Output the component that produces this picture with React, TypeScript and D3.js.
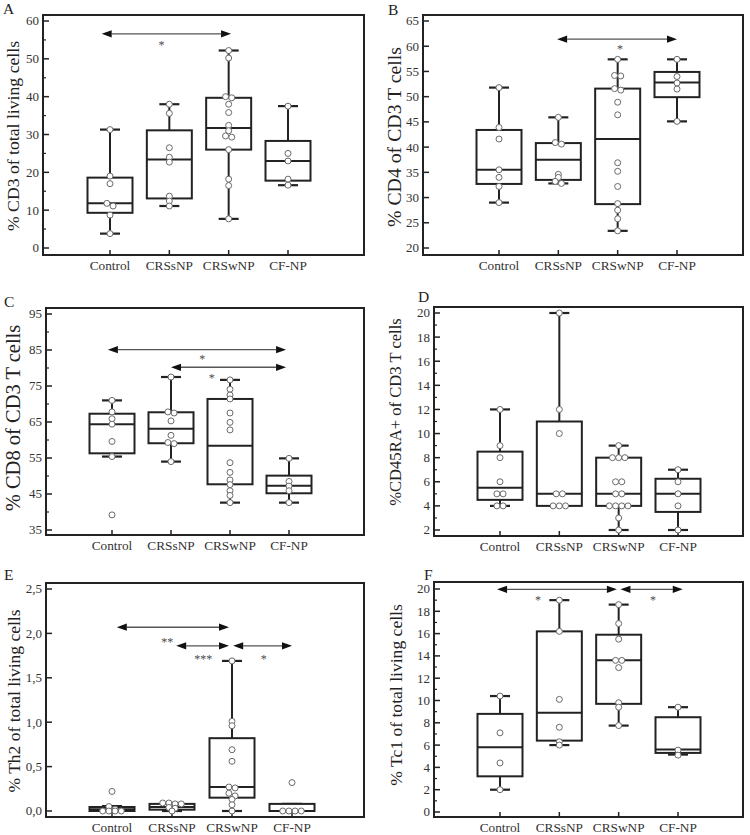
import React from "react";
import * as d3 from "d3";

const categories = ["Control", "CRSsNP", "CRSwNP", "CF-NP"];

// Box stats per group: [min, q1, median, q3, max]
const cd3Stats = [[3.8, 9.3, 11.8, 18.6, 31.3], [11.1, 13.1, 23.4, 31.1, 38.0], [7.7, 26.0, 31.7, 39.7, 52.2], [16.6, 17.8, 23.0, 28.3, 37.5]];
const cd3Points = [[31.3, 19.0, 17.0, 11.8, 11.1, 8.7, 3.8], [38.0, 35.6, 26.5, 24.0, 22.7, 13.7, 12.4, 11.1], [52.2, 50.2, 40.0, 39.7, 38.0, 35.8, 32.4, 31.0, 29.6, 29.3, 26.0, 18.2, 16.5, 7.7], [37.5, 25.0, 23.0, 18.2, 16.6]];

const cd4Stats = [[29.0, 32.7, 35.5, 43.4, 51.8], [32.8, 33.5, 37.5, 40.8, 45.9], [23.4, 28.7, 41.6, 51.6, 57.4], [45.1, 49.9, 52.8, 54.9, 57.4]];
const cd4Points = [[51.8, 43.9, 41.6, 35.5, 34.0, 32.2, 29.0], [45.9, 40.9, 40.6, 34.6, 34.0, 33.2, 32.8], [57.4, 54.2, 54.1, 51.6, 51.3, 48.9, 46.4, 36.9, 35.2, 32.2, 28.8, 27.5, 25.8, 23.4], [57.4, 54.0, 52.7, 51.5, 45.1]];

const cd8Stats = [[55.4, 56.3, 64.4, 67.3, 71.0], [54.0, 59.1, 63.1, 67.7, 77.5], [42.6, 47.7, 58.4, 71.4, 76.7], [42.6, 45.2, 47.3, 50.1, 54.9]];
const cd8Points = [[71.0, 67.8, 65.9, 64.4, 59.6, 55.4, 39.2], [77.5, 67.8, 67.5, 65.3, 61.3, 59.3, 59.0, 54.0], [76.7, 74.1, 72.5, 71.4, 67.5, 64.9, 62.8, 53.7, 51.0, 48.9, 47.6, 45.9, 44.6, 42.6], [54.9, 48.5, 47.2, 45.9, 42.6]];

const cd45Stats = [[4, 4.5, 5.5, 8.5, 12], [4, 4, 5, 11, 20], [2, 4, 5, 8, 9], [2, 3.5, 5, 6.25, 7]];
const cd45Points = [[12, 9, 8, 6, 5, 5, 4, 4], [20, 12, 10, 5, 5, 4, 4, 4], [9, 8, 8, 8, 6, 6, 5, 5, 4, 4, 4, 4, 3, 2], [7, 6, 5, 4, 2]];

const th2Stats = [[0, 0, 0.02, 0.045, 0.055], [0, 0.015, 0.045, 0.08, 0.09], [0, 0.15, 0.27, 0.82, 1.69], [0, 0, 0, 0.08, 0.08]];
const th2Points = [[0.22, 0.05, 0.02, 0, 0, 0, 0], [0.09, 0.09, 0.08, 0.08, 0.04, 0.03, 0.0], [1.69, 1.01, 0.96, 0.69, 0.56, 0.27, 0.26, 0.2, 0.17, 0.13, 0.07, 0.0], [0.32, 0, 0, 0, 0]];

const tc1Stats = [[2.0, 3.2, 5.8, 8.8, 10.4], [6.0, 6.4, 8.9, 16.2, 19.0], [7.75, 9.7, 13.6, 15.9, 18.6], [5.15, 5.3, 5.6, 8.5, 9.4]];
const tc1Points = [[10.4, 7.1, 4.4, 2.0], [19.0, 16.2, 10.1, 7.6, 6.3, 6.0], [18.6, 16.9, 15.5, 13.6, 13.6, 12.95, 9.8, 9.4, 7.75], [9.4, 5.55, 5.1]];

// Significance arrows: from/to in category index units, y in data units; star label position
type Sig = { from: number; to: number; y: number };
type Star = { text: string; x: number; y: number };

const cd3Arrows: Sig[] = [{ from: -0.14, to: 2.04, y: 56.6 }];
const cd3Stars: Star[] = [{ text: "*", x: 0.87, y: 54.1 }];
const cd4Arrows: Sig[] = [{ from: 0.98, to: 3.0, y: 61.4 }];
const cd4Stars: Star[] = [{ text: "*", x: 2.04, y: 59.9 }];
const cd8Arrows: Sig[] = [{ from: -0.07, to: 2.95, y: 85.1 }, { from: 1.0, to: 2.95, y: 80.2 }];
const cd8Stars: Star[] = [{ text: "*", x: 1.53, y: 83.0 }, { text: "*", x: 1.69, y: 77.7 }];
const th2Arrows: Sig[] = [{ from: 0.08, to: 1.95, y: 2.07 }, { from: 1.07, to: 1.95, y: 1.86 }, { from: 2.02, to: 3.0, y: 1.86 }];
const th2Stars: Star[] = [{ text: "**", x: 0.92, y: 1.93 }, { text: "***", x: 1.52, y: 1.73 }, { text: "*", x: 2.53, y: 1.73 }];
const tc1Arrows: Sig[] = [{ from: -0.05, to: 1.97, y: 19.97 }, { from: 2.03, to: 3.08, y: 19.97 }];
const tc1Stars: Star[] = [{ text: "*", x: 0.64, y: 19.2 }, { text: "*", x: 2.58, y: 19.2 }];

type PanelCfg = {
  letter: string;
  label: string;
  labelSize: number;
  labelX: number;
  labelY: number;
  letterX: number;
  letterY: number;
  frame: [number, number, number, number];
  domain: [number, number];
  yRange: [number, number];
  xRange: [number, number];
  step: number;
  minor: number | null;
  comma: boolean;
  stats: number[][];
  points: number[][];
  arrows: Sig[];
  stars: Star[];
};

const panels: PanelCfg[] = [
  { letter: "A", label: "% CD3 of total living cells", labelSize: 17.7, labelX: 19, labelY: 136, letterX: 3, letterY: 14, frame: [43, 15, 364, 255], domain: [0, 60], yRange: [248, 21], xRange: [110, 288], step: 10, minor: 5, comma: false, stats: cd3Stats, points: cd3Points, arrows: cd3Arrows, stars: cd3Stars },
  { letter: "B", label: "% CD4 of CD3 T cells", labelSize: 19.8, labelX: 401, labelY: 137, letterX: 388, letterY: 15, frame: [423, 15, 743, 255], domain: [20, 65], yRange: [248, 21], xRange: [499, 677], step: 5, minor: null, comma: false, stats: cd4Stats, points: cd4Points, arrows: cd4Arrows, stars: cd4Stars },
  { letter: "C", label: "% CD8 of CD3 T cells", labelSize: 20.5, labelX: 20, labelY: 418, letterX: 4, letterY: 307, frame: [46, 308, 364, 535], domain: [35, 95], yRange: [530, 314], xRange: [112, 289], step: 10, minor: 5, comma: false, stats: cd8Stats, points: cd8Points, arrows: cd8Arrows, stars: cd8Stars },
  { letter: "D", label: "%CD45RA+ of CD3 T cells", labelSize: 16.6, labelX: 401, labelY: 412, letterX: 418, letterY: 302, frame: [434, 307, 743, 536], domain: [2, 20], yRange: [530, 313], xRange: [500, 678], step: 2, minor: 1, comma: false, stats: cd45Stats, points: cd45Points, arrows: [], stars: [] },
  { letter: "E", label: "% Th2 of total living cells", labelSize: 17.5, labelX: 20, labelY: 701, letterX: 4, letterY: 580, frame: [46, 583, 364, 817], domain: [0, 2.5], yRange: [811, 589], xRange: [112, 292], step: 0.5, minor: null, comma: true, stats: th2Stats, points: th2Points, arrows: th2Arrows, stars: th2Stars },
  { letter: "F", label: "% Tc1 of total living cells", labelSize: 17.6, labelX: 402, labelY: 695, letterX: 424, letterY: 580, frame: [434, 582, 743, 817], domain: [0, 20], yRange: [812, 589], xRange: [500, 678], step: 2, minor: 1, comma: false, stats: tc1Stats, points: tc1Points, arrows: tc1Arrows, stars: tc1Stars },
];

const FONT = "'Liberation Serif', 'Times New Roman', serif";
const INK = "#222";

function jitter(values: number[], py: (v: number) => number, spacing: number): number[] {
  const order = values.map((v, i) => i).sort((a, b) => values[b] - values[a]);
  const offsets = new Array(values.length).fill(0);
  let group: number[] = [];
  const flush = () => {
    const n = group.length;
    group.forEach((idx, k) => {
      offsets[idx] = (k - (n - 1) / 2) * spacing;
    });
    group = [];
  };
  order.forEach((idx) => {
    if (group.length && Math.abs(py(values[idx]) - py(values[group[0]])) >= 3) flush();
    group.push(idx);
  });
  flush();
  return offsets;
}

function Panel({ cfg }: { cfg: PanelCfg }) {
  const y = d3.scaleLinear().domain(cfg.domain).range(cfg.yRange);
  const x = d3.scaleLinear().domain([0, 3]).range(cfg.xRange);
  const [fx0, fy0, fx1, fy1] = cfg.frame;
  const eps = cfg.step / 1000;
  const majors = d3.range(cfg.domain[0], cfg.domain[1] + eps, cfg.step);
  const minors = cfg.minor
    ? d3.range(cfg.domain[0], cfg.domain[1] + eps, cfg.minor).filter((v) => majors.every((m) => Math.abs(m - v) > eps))
    : [];
  const fmt = (v: number) => (cfg.comma ? d3.format(".1f")(v).replace(".", ",") : d3.format("d")(v));
  const boxW = 45;
  const capW = 20;
  const r = 3;

  return (
    <g>
      <text x={cfg.letterX} y={cfg.letterY} fontFamily={FONT} fontSize={15.5} fill={INK}>{cfg.letter}</text>
      <text
        transform={`translate(${cfg.labelX},${cfg.labelY}) rotate(-90)`}
        textAnchor="middle"
        fontFamily={FONT}
        fontSize={cfg.labelSize}
        fill={INK}
      >
        {cfg.label}
      </text>
      {/* y ticks */}
      {majors.map((v) => (
        <g key={"M" + v}>
          <line x1={fx0} x2={fx0 + 6} y1={y(v)} y2={y(v)} stroke={INK} strokeWidth={1.5} />
          <text x={fx0 - 4} y={y(v)} dy="0.34em" textAnchor="end" fontFamily={FONT} fontSize={13} fill="#333">{fmt(v)}</text>
        </g>
      ))}
      {minors.map((v) => (
        <line key={"m" + v} x1={fx0} x2={fx0 + 3} y1={y(v)} y2={y(v)} stroke={INK} strokeWidth={1.2} />
      ))}
      {/* x ticks + labels */}
      {categories.map((c, i) => (
        <g key={c}>
          <line x1={x(i)} x2={x(i)} y1={fy1} y2={fy1 - 5} stroke={INK} strokeWidth={1.5} />
          <text x={x(i)} y={fy1 + 14.5} textAnchor="middle" fontFamily={FONT} fontSize={13.3} fill="#333">{c}</text>
        </g>
      ))}
      {/* boxes */}
      {cfg.stats.map((s, i) => {
        const cx = x(i);
        const [mn, q1, md, q3, mx] = s;
        return (
          <g key={"b" + i} stroke={INK} fill="none">
            <line x1={cx} x2={cx} y1={y(q3)} y2={y(mx)} strokeWidth={2} />
            <line x1={cx} x2={cx} y1={y(q1)} y2={y(mn)} strokeWidth={2} />
            <line x1={cx - capW / 2} x2={cx + capW / 2} y1={y(mx)} y2={y(mx)} strokeWidth={2.2} />
            <line x1={cx - capW / 2} x2={cx + capW / 2} y1={y(mn)} y2={y(mn)} strokeWidth={2.2} />
            <rect x={cx - boxW / 2} y={y(q3)} width={boxW} height={Math.max(0, y(q1) - y(q3))} strokeWidth={2} fill="white" />
            <line x1={cx - boxW / 2} x2={cx + boxW / 2} y1={y(md)} y2={y(md)} strokeWidth={2} />
          </g>
        );
      })}
      {/* points */}
      {cfg.points.map((pts, i) => {
        const offs = jitter(pts, (v) => y(v), 2 * r + 0.2);
        return pts.map((v, k) => (
          <circle key={"p" + i + "-" + k} cx={x(i) + offs[k]} cy={y(v)} r={r} fill="white" stroke="#6a6a6a" strokeWidth={1} />
        ));
      })}
      {/* significance arrows */}
      {cfg.arrows.map((a, k) => {
        const x0 = x(a.from);
        const x1 = x(a.to);
        const yy = y(a.y);
        const hl = 10;
        const hh = 3.6;
        return (
          <g key={"a" + k}>
            <line x1={x0 + hl} x2={x1 - hl} y1={yy} y2={yy} stroke="#555" strokeWidth={1.4} />
            <path d={`M${x0},${yy}L${x0 + hl},${yy - hh}L${x0 + hl},${yy + hh}Z`} fill="#111" />
            <path d={`M${x1},${yy}L${x1 - hl},${yy - hh}L${x1 - hl},${yy + hh}Z`} fill="#111" />
          </g>
        );
      })}
      {cfg.stars.map((s, k) => (
        <text key={"s" + k} x={x(s.x)} y={y(s.y) + 6} textAnchor="middle" fontFamily={FONT} fontSize={12} fill="#4a4a4a">{s.text}</text>
      ))}
      {/* frame */}
      <rect x={fx0} y={fy0} width={fx1 - fx0} height={fy1 - fy0} fill="none" stroke={INK} strokeWidth={2} />
    </g>
  );
}

export default function App() {
  return (
    <svg
      width={750}
      height={835}
      viewBox="0 0 750 835"
      style={{ position: "absolute", left: 0, top: 0, background: "white" }}
    >
      <rect x={0} y={0} width={750} height={835} fill="white" />
      {panels.map((p) => (
        <Panel key={p.letter} cfg={p} />
      ))}
    </svg>
  );
}
